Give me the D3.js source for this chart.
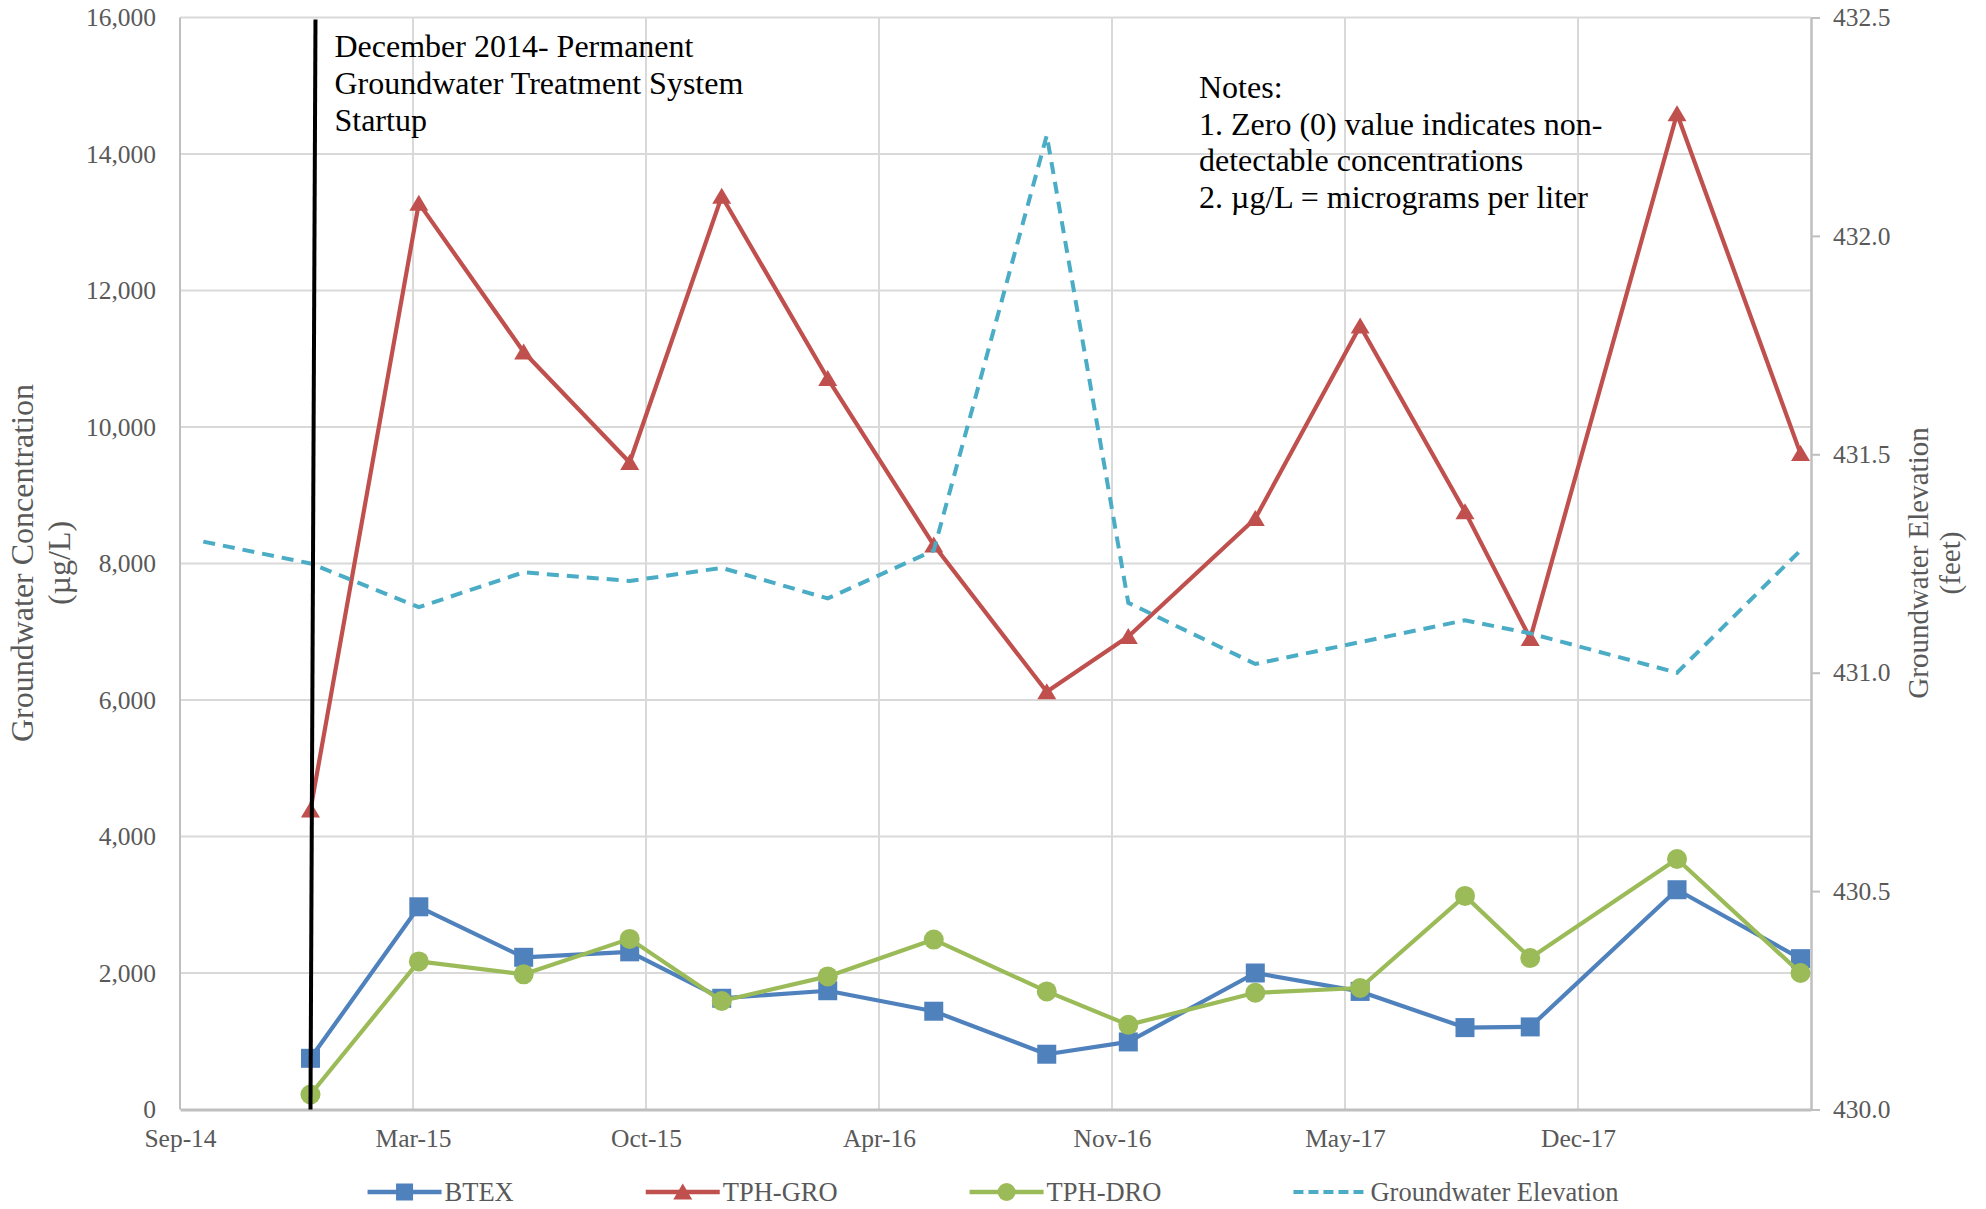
<!DOCTYPE html>
<html>
<head>
<meta charset="utf-8">
<script src="https://cdn.jsdelivr.net/npm/d3@7"></script>
<style>
  html, body { margin: 0; padding: 0; background: #ffffff; }
  svg { display: block; font-family: "Liberation Serif", "Times New Roman", serif; }
</style>
</head>
<body>
<svg id="chart" width="1986" height="1209"></svg>
<script>
// Quarterly sampling events (µg/L)
const sampleDates = ["2014-12-22", "2015-03-25", "2015-06-23", "2015-09-22", "2015-12-10",
                     "2016-03-10", "2016-06-09", "2016-09-14", "2016-11-23", "2017-03-12",
                     "2017-06-10", "2017-09-08", "2017-11-03", "2018-03-09", "2018-06-23"];
const btex   = [750, 2970, 2230, 2310, 1630, 1740, 1440, 810, 990, 2000, 1730, 1200, 1210, 3220, 2210];
const tphGro = [4390, 13280, 11100, 9480, 13380, 10710, 8270, 6120, 6930, 8660, 11480, 8760, 6900, 14590, 9610];
const tphDro = [220, 2170, 1980, 2500, 1590, 1950, 2490, 1730, 1240, 1710, 1780, 3130, 2220, 3670, 2000];

// Groundwater elevation (feet), includes one gauging event before startup
const elevationDates = ["2014-09-21", "2014-12-22", "2015-03-25", "2015-06-23", "2015-09-22", "2015-12-10",
                        "2016-03-10", "2016-06-09", "2016-09-14", "2016-11-23", "2017-03-12",
                        "2017-06-10", "2017-09-08", "2017-11-03", "2018-03-09", "2018-06-23"];
const elevation = [431.30, 431.25, 431.15, 431.23, 431.21, 431.24, 431.17, 431.28, 432.23,
                   431.16, 431.02, 431.07, 431.12, 431.09, 431.00, 431.28];

// Axis ticks
const concentrationTicks = [0, 2000, 4000, 6000, 8000, 10000, 12000, 14000, 16000];
const elevationTicks = [430.0, 430.5, 431.0, 431.5, 432.0, 432.5];
const dateTicks = ["2014-09-01", "2015-03-20", "2015-10-06", "2016-04-23", "2016-11-09", "2017-05-28", "2017-12-14"];
const axisStart = "2014-09-01";
const axisEnd = "2018-07-02";

// Annotations
const startupDate = "2014-12-22";
const startupNote = ["December 2014- Permanent", "Groundwater Treatment System", "Startup"];
const notes = ["Notes:", "1. Zero (0) value indicates non-", "detectable concentrations", "2. µg/L = micrograms per liter"];
const seriesNames = ["BTEX", "TPH-GRO", "TPH-DRO", "Groundwater Elevation"];
const seriesColors = ["#4f81bd", "#c0504d", "#9bbb59", "#4bacc6"];
const leftTitle = ["Groundwater Concentration", "(µg/L)"];
const rightTitle = ["Groundwater Elevation", "(feet)"];

const parse = d3.timeParse("%Y-%m-%d");
const svg = d3.select("#chart");
const plot = { left: 180, right: 1811, top: 17.5, bottom: 1109.5 };
const gridColor = "#d9d9d9";
const axisColor = "#bfbfbf";
const textGray = "#595959";
const serif = "'Liberation Serif', 'Times New Roman', serif";

const x = d3.scaleTime().domain([parse(axisStart), parse(axisEnd)]).range([plot.left, plot.right]);
const y = d3.scaleLinear().domain([0, 16000]).range([plot.bottom, plot.top]);
const y2 = d3.scaleLinear().domain([430, 432.5]).range([plot.bottom, plot.top]);

// Gridlines
const grid = svg.append("g");
grid.selectAll("line.h").data(concentrationTicks.slice(1)).join("line")
  .attr("x1", plot.left).attr("x2", plot.right)
  .attr("y1", d => y(d)).attr("y2", d => y(d))
  .attr("stroke", gridColor).attr("stroke-width", 2);
grid.selectAll("line.v").data(dateTicks.slice(1)).join("line")
  .attr("x1", d => x(parse(d))).attr("x2", d => x(parse(d)))
  .attr("y1", plot.top).attr("y2", plot.bottom)
  .attr("stroke", gridColor).attr("stroke-width", 2);

// Left edge
svg.append("line").attr("x1", x(parse(dateTicks[0]))).attr("x2", x(parse(dateTicks[0])))
  .attr("y1", plot.top).attr("y2", plot.bottom).attr("stroke", axisColor).attr("stroke-width", 2);

// Left axis
const leftAxis = svg.append("g").attr("transform", `translate(${plot.left},0)`)
  .call(d3.axisLeft(y).tickValues(concentrationTicks).tickFormat(d3.format(",")).tickSize(0).tickPadding(24));
leftAxis.select(".domain").remove();
leftAxis.selectAll("text").attr("fill", textGray).attr("font-size", 25.5).attr("font-family", serif);

// Right axis
const rightAxis = svg.append("g").attr("transform", `translate(${plot.right},0)`)
  .call(d3.axisRight(y2).tickValues(elevationTicks).tickFormat(d3.format(".1f")).tickSize(9).tickSizeOuter(0).tickPadding(13));
rightAxis.select(".domain").attr("stroke", axisColor).attr("stroke-width", 2.5);
rightAxis.selectAll(".tick line").attr("stroke", axisColor).attr("stroke-width", 2);
rightAxis.selectAll("text").attr("fill", textGray).attr("font-size", 25.5).attr("font-family", serif);

// Bottom axis
const bottomAxis = svg.append("g").attr("transform", `translate(0,${plot.bottom})`)
  .call(d3.axisBottom(x).tickValues(dateTicks.map(parse)).tickFormat(d3.timeFormat("%b-%y")).tickSize(0).tickSizeOuter(0));
bottomAxis.select(".domain").attr("stroke", axisColor).attr("stroke-width", 3);
bottomAxis.selectAll("text").attr("fill", textGray).attr("font-size", 25.5).attr("font-family", serif)
  .attr("y", 37).attr("dy", 0);

// Axis titles
const leftTitleG = svg.append("g").attr("fill", textGray).attr("font-size", 32).attr("text-anchor", "middle");
leftTitle.forEach((t, i) => {
  leftTitleG.append("text").attr("transform", `translate(${33 + i * 37},563) rotate(-90)`).text(t);
});
const rightTitleG = svg.append("g").attr("fill", textGray).attr("font-size", 29).attr("text-anchor", "middle");
rightTitle.forEach((t, i) => {
  rightTitleG.append("text").attr("transform", `translate(${1928 + i * 32},563) rotate(-90)`).text(t);
});

// Series
const toPoints = (dates, vals) => dates.map((d, i) => ({ date: parse(d), v: vals[i] }));
const btexPts = toPoints(sampleDates, btex);
const groPts = toPoints(sampleDates, tphGro);
const droPts = toPoints(sampleDates, tphDro);
const elevPts = toPoints(elevationDates, elevation);

const line1 = d3.line().x(d => x(d.date)).y(d => y(d.v));
const line2 = d3.line().x(d => x(d.date)).y(d => y2(d.v));

const triPath = "M0,-8.5 L9.5,7.5 L-9.5,7.5 Z";

function drawSeries(pts, color, marker) {
  const g = svg.append("g");
  g.append("path").datum(pts).attr("d", line1).attr("fill", "none")
    .attr("stroke", color).attr("stroke-width", 4.2).attr("stroke-linejoin", "round");
  const m = g.selectAll(".m").data(pts).join("g")
    .attr("transform", d => `translate(${x(d.date)},${y(d.v)})`);
  marker(m, color);
}
const squareMarker = (sel, c, s = 19) => sel.append("rect").attr("x", -s / 2).attr("y", -s / 2)
  .attr("width", s).attr("height", s).attr("fill", c);
const triangleMarker = (sel, c) => sel.append("path").attr("d", triPath).attr("fill", c);
const circleMarker = (sel, c, r = 10) => sel.append("circle").attr("r", r).attr("fill", c);

drawSeries(btexPts, seriesColors[0], squareMarker);
drawSeries(groPts, seriesColors[1], triangleMarker);
drawSeries(droPts, seriesColors[2], circleMarker);

svg.append("path").datum(elevPts).attr("d", line2).attr("fill", "none")
  .attr("stroke", seriesColors[3]).attr("stroke-width", 4).attr("stroke-dasharray", "12,8");

// Startup marker line
const sx = x(parse(startupDate));
svg.append("line").attr("x1", sx + 5).attr("y1", plot.top + 2).attr("x2", sx).attr("y2", plot.bottom)
  .attr("stroke", "#000").attr("stroke-width", 4);

// Text annotations
const note1 = svg.append("g").attr("fill", "#000").attr("font-size", 32);
startupNote.forEach((t, i) => note1.append("text").attr("x", sx + 24).attr("y", 57 + i * 37).text(t));
const note2 = svg.append("g").attr("fill", "#000").attr("font-size", 32);
notes.forEach((t, i) => note2.append("text").attr("x", 1199).attr("y", 98 + i * 36.7).text(t));

// Legend
const legend = svg.append("g").attr("transform", "translate(0,1192)");
let cursor = 0;
seriesNames.forEach((name, i) => {
  const g = legend.append("g");
  const ln = g.append("line").attr("x1", 0).attr("x2", 74).attr("y1", 0).attr("y2", 0)
    .attr("stroke", seriesColors[i]).attr("stroke-width", 4.5);
  const mg = g.append("g").attr("transform", "translate(37,0)");
  if (i === 0) squareMarker(mg, seriesColors[i], 17);
  else if (i === 1) triangleMarker(mg, seriesColors[i]);
  else if (i === 2) circleMarker(mg, seriesColors[i], 9);
  else ln.attr("stroke-dasharray", "10,5").attr("stroke-width", 4);
  const t = g.append("text").attr("x", 77).attr("y", 9).attr("fill", textGray)
    .attr("font-size", 26.5).text(name);
  const w = 77 + t.node().getComputedTextLength();
  g.attr("transform", `translate(${cursor},0)`);
  cursor += w + 132;
});
const totalW = cursor - 132;
legend.attr("transform", `translate(${(1986 - totalW) / 2},1192)`);
</script>
</body>
</html>
